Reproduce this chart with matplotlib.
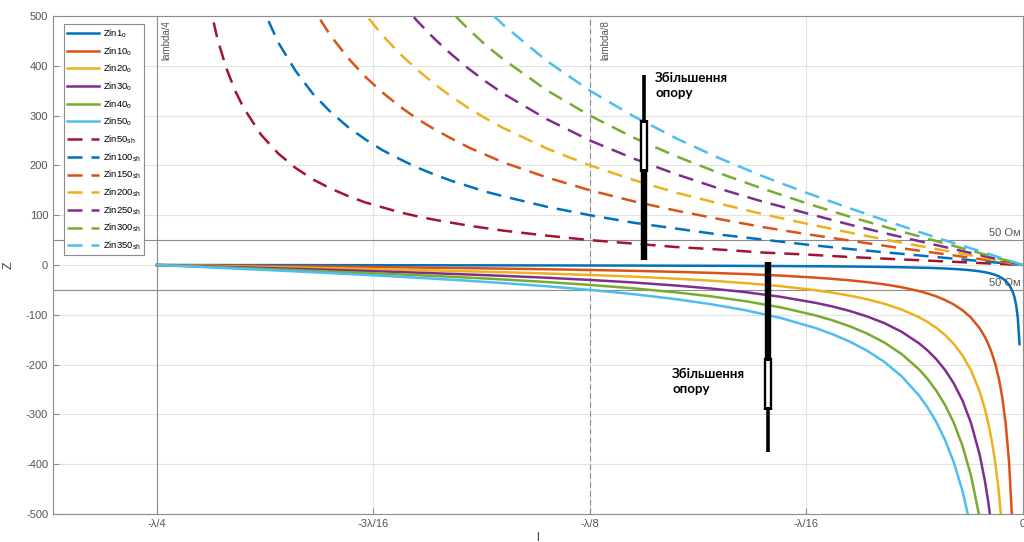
import numpy as np
import matplotlib
matplotlib.use("Agg")
import matplotlib.pyplot as plt

plt.rcParams["font.family"] = ["Liberation Sans", "DejaVu Sans"]
plt.rcParams["axes.unicode_minus"] = False
plt.rcParams["mathtext.fontset"] = "custom"
plt.rcParams["mathtext.rm"] = "Liberation Sans"
plt.rcParams["mathtext.it"] = "Liberation Sans"

# distance along the line, in wavelengths (negative = towards the generator)
x_open = [-0.25, -0.2375, -0.225, -0.2125, -0.2, -0.1875, -0.175, -0.1625, -0.15, -0.1375,
          -0.125, -0.1125, -0.1, -0.09, -0.08, -0.07, -0.06, -0.055, -0.05, -0.045, -0.04,
          -0.035, -0.03, -0.0275, -0.025, -0.0225, -0.02, -0.0175, -0.015, -0.0125, -0.011,
          -0.01, -0.009, -0.008, -0.007, -0.006, -0.005, -0.004, -0.003, -0.0025, -0.002,
          -0.0015, -0.001]
x_short = [-0.245, -0.2425, -0.24, -0.2375, -0.235, -0.2325, -0.23, -0.2275, -0.225, -0.22,
           -0.215, -0.21, -0.205, -0.2, -0.195, -0.19, -0.185, -0.18, -0.175, -0.17, -0.165,
           -0.16, -0.155, -0.15, -0.1375, -0.125, -0.1125, -0.1, -0.0875, -0.075, -0.0625,
           -0.05, -0.0375, -0.025, -0.0125, 0.0]

# open-circuited stubs, Zin (Ohm)
zin1_o = [0, -0.08, -0.16, -0.24, -0.32, -0.41, -0.51, -0.61, -0.73, -0.85, -1, -1.17, -1.38,
          -1.58, -1.82, -2.13, -2.53, -2.78, -3.08, -3.44, -3.89, -4.47, -5.24, -5.73, -6.31,
          -7.03, -7.92, -9.06, -10.6, -12.7, -14.4, -15.9, -17.7, -19.9, -22.7, -26.5, -31.8,
          -39.8, -53.1, -63.7, -79.6, -106, -159]
zin10_o = [0, -0.8, -1.6, -2.4, -3.2, -4.1, -5.1, -6.1, -7.3, -8.5, -10, -11.7, -13.8, -15.8,
           -18.2, -21.3, -25.3, -27.8, -30.8, -34.4, -38.9, -44.7, -52.4, -57.3, -63.1, -70.3,
           -79.2, -90.6, -105.8, -127.1, -144.5, -158.9, -176.7, -198.8, -227.2, -265.1, -318.2,
           -397.8, -530.5, -636.6, -795.7, -1061, -1592]
zin20_o = [0, -1.6, -3.2, -4.8, -6.5, -8.3, -10.2, -12.3, -14.5, -17.1, -20, -23.4, -27.5,
           -31.5, -36.4, -42.5, -50.5, -55.6, -61.6, -68.8, -77.9, -89.5, -104.8, -114.6, -126.3,
           -140.5, -158.3, -181.2, -211.6, -254.1, -288.9, -317.9, -353.3, -397.5, -454.4, -530.2,
           -636.4, -795.6, -1061, -1273, -1591, -2122, -3183]
zin30_o = [0, -2.4, -4.8, -7.2, -9.7, -12.4, -15.3, -18.4, -21.8, -25.6, -30, -35.1, -41.3,
           -47.3, -54.6, -63.8, -75.8, -83.3, -92.3, -103.3, -116.8, -134.2, -157.3, -171.9,
           -189.4, -210.8, -237.5, -271.7, -317.4, -381.2, -433.4, -476.8, -530, -596.3, -681.6,
           -795.3, -954.6, -1193, -1592, -1910, -2387, -3183, -4775]
zin40_o = [0, -3.1, -6.3, -9.6, -13, -16.6, -20.4, -24.5, -29.1, -34.2, -40, -46.8, -55.1,
           -63, -72.8, -85, -101, -111.1, -123.1, -137.7, -155.8, -179, -209.7, -229.2, -252.6,
           -281.1, -316.6, -362.3, -423.2, -508.2, -577.8, -635.8, -706.6, -795.1, -908.8, -1060,
           -1273, -1591, -2122, -2546, -3183, -4244, -6366]
zin50_o = [0, -3.9, -7.9, -12, -16.2, -20.7, -25.5, -30.6, -36.3, -42.7, -50, -58.5, -68.8,
           -78.8, -91, -106.3, -126.3, -138.9, -153.9, -172.1, -194.7, -223.7, -262.1, -286.5,
           -315.7, -351.3, -395.8, -452.9, -528.9, -635.3, -722.3, -794.7, -883.3, -993.9, -1136,
           -1326, -1591, -1989, -2653, -3183, -3979, -5305, -7958]

# short-circuited stubs, Zin (Ohm)
zin50_sh = [1591, 1060, 795, 635, 529, 453, 396, 351, 316, 262, 224, 195, 172, 154, 139, 126,
            116, 106, 98, 91, 85, 79, 74, 69, 59, 50, 43, 36, 31, 25, 21, 16, 12, 8, 4, 0]
zin100_sh = [3182, 2121, 1590, 1271, 1058, 906, 792, 703, 631, 524, 447, 390, 344, 308, 278, 253,
             231, 213, 196, 182, 169, 158, 147, 138, 117, 100, 85, 73, 61, 51, 41, 32, 24, 16, 8, 0]
zin150_sh = [4773, 3181, 2384, 1906, 1587, 1359, 1187, 1054, 947, 786, 671, 584, 516, 462, 417, 379,
             347, 319, 294, 273, 254, 236, 221, 206, 176, 150, 128, 109, 92, 76, 62, 49, 36, 24, 12, 0]
zin200_sh = [6364, 4241, 3179, 2541, 2116, 1812, 1583, 1405, 1263, 1048, 895, 779, 688, 616, 556, 505,
             462, 425, 393, 364, 338, 315, 294, 275, 234, 200, 171, 145, 123, 102, 83, 65, 48, 32, 16, 0]
zin250_sh = [7955, 5301, 3974, 3177, 2645, 2265, 1979, 1757, 1579, 1311, 1119, 974, 861, 770, 695, 632,
             578, 531, 491, 455, 423, 394, 368, 344, 293, 250, 214, 182, 153, 127, 104, 81, 60, 40, 20, 0]
zin300_sh = [9546, 6362, 4769, 3812, 3174, 2717, 2375, 2108, 1894, 1573, 1342, 1169, 1033, 923, 833, 758,
             693, 638, 589, 546, 508, 473, 441, 413, 351, 300, 256, 218, 184, 153, 124, 97, 72, 48, 24, 0]
zin350_sh = [11137, 7422, 5563, 4447, 3703, 3170, 2771, 2459, 2210, 1835, 1566, 1363, 1205, 1077, 972, 884,
             809, 744, 687, 637, 592, 552, 515, 482, 410, 350, 299, 254, 214, 178, 145, 114, 84, 55, 28, 0]

open_series = [("Zin1$_o$", zin1_o), ("Zin10$_o$", zin10_o), ("Zin20$_o$", zin20_o),
               ("Zin30$_o$", zin30_o), ("Zin40$_o$", zin40_o), ("Zin50$_o$", zin50_o)]
short_series = [("Zin50$_{sh}$", zin50_sh), ("Zin100$_{sh}$", zin100_sh), ("Zin150$_{sh}$", zin150_sh),
                ("Zin200$_{sh}$", zin200_sh), ("Zin250$_{sh}$", zin250_sh), ("Zin300$_{sh}$", zin300_sh),
                ("Zin350$_{sh}$", zin350_sh)]

x_ticks = [-0.25, -0.1875, -0.125, -0.0625, 0.0]
x_ticklabels = ["-\u03bb/4", "-3\u03bb/16", "-\u03bb/8", "-\u03bb/16", "0"]

# MATLAB default colour order
open_colors = ["#0072BD", "#D95319", "#EDB120", "#7E2F8E", "#77AC30", "#4DBEEE"]
short_colors = ["#A2142F", "#0072BD", "#D95319", "#EDB120", "#7E2F8E", "#77AC30", "#4DBEEE"]

gray = "#8c8c8c"
annot = "\u0417\u0431\u0456\u043b\u044c\u0448\u0435\u043d\u043d\u044f\n\u043e\u043f\u043e\u0440\u0443"

fig = plt.figure(figsize=(10.24, 5.42), dpi=100)
ax = fig.add_axes([53 / 1024, 1 - 514 / 542, 970 / 1024, 498 / 542])

for (label, z), c in zip(open_series, open_colors):
    ax.plot(x_open, z, color=c, lw=1.8, label=label, zorder=3)
for (label, z), c in zip(short_series, short_colors):
    ax.plot(x_short, z, color=c, lw=1.8, ls=(0, (6, 3.6)), label=label, zorder=3)

# reference lines
ax.axvline(-0.25, color=gray, lw=0.8, zorder=2)
ax.axvline(-0.125, color=gray, lw=0.8, ls=(0, (5, 3)), zorder=2)
ax.axhline(50, color=gray, lw=0.8, zorder=2)
ax.axhline(-50, color=gray, lw=0.8, zorder=2)
ax.text(-0.25 + 0.0014, 492, "lambda/4", rotation=90, ha="left", va="top", fontsize=7, color="#555555")
ax.text(-0.125 + 0.0030, 492, "lambda/8", rotation=90, ha="left", va="top", fontsize=7, color="#555555")
ax.text(-0.0008, 54, "50 \u041e\u043c", ha="right", va="bottom", fontsize=8, color="#555555")
ax.text(-0.0008, -46, "50 \u041e\u043c", ha="right", va="bottom", fontsize=8, color="#555555")


def marker_arrow(x, thin_end, slot_a, slot_b, thick_end):
    ax.plot([x, x], [thin_end, slot_a], color="black", lw=2.6, solid_capstyle="butt", zorder=6)
    ax.plot([x, x], [slot_b, thick_end], color="black", lw=4.6, solid_capstyle="butt", zorder=6)
    ax.plot([x, x], [slot_a, slot_b], color="black", lw=6.0, solid_capstyle="butt", zorder=6)
    lo, hi = sorted([slot_a, slot_b])
    ax.plot([x, x], [lo + 6, hi - 6], color="white", lw=2.6, solid_capstyle="butt", zorder=7)


marker_arrow(-0.1094, 381, 291, 187, 10)
marker_arrow(-0.0736, -375, -291, -187, 6)
ax.text(-0.1062, 388, annot, fontsize=9.5, fontweight="bold", family="Lato",
        ha="left", va="top", linespacing=1.35, zorder=8)
ax.text(-0.1013, -206, annot, fontsize=9.5, fontweight="bold", family="Lato",
        ha="left", va="top", linespacing=1.35, zorder=8)

ax.set_xlim(-0.28, 0)
ax.set_ylim(-500, 500)
ax.set_xticks(x_ticks)
ax.set_xticklabels(x_ticklabels)
ax.set_yticks(np.arange(-500, 501, 100))
ax.tick_params(direction="in", length=4, colors=gray, labelcolor="#555555", labelsize=8, width=0.8)
ax.grid(True, color="#e3e3e3", lw=0.8, zorder=0)
ax.set_axisbelow(True)
for s in ax.spines.values():
    s.set_color(gray)
    s.set_linewidth(0.8)
ax.set_xlabel("l", fontsize=9, color="#444444", labelpad=2)
ax.set_ylabel("Z", fontsize=9, color="#444444")
ax.yaxis.set_label_coords(-38 / 970, 0.5)

leg = ax.legend(loc="upper left", bbox_to_anchor=(11 / 970, 1 - 8 / 498), borderaxespad=0,
                fontsize=6.8, handlelength=3.4, handletextpad=0.35, labelspacing=0.55,
                borderpad=0.35, fancybox=False, framealpha=1)
leg.get_frame().set_edgecolor(gray)
leg.get_frame().set_linewidth(0.8)

fig.savefig("out.png", dpi=100)
